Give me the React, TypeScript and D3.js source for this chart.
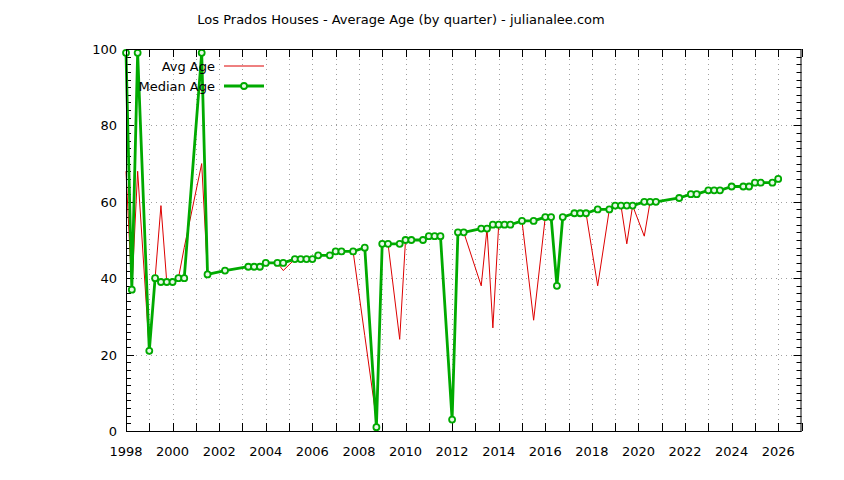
import React from "react";
import * as d3 from "d3";

const quarters = [
  1998.0, 1998.25, 1998.5, 1999.0, 1999.25, 1999.5, 1999.75, 2000.0, 2000.25, 2000.5,
  2001.25, 2001.5, 2002.25, 2003.25, 2003.5, 2003.75, 2004.0, 2004.5, 2004.75, 2005.25,
  2005.5, 2005.75, 2006.0, 2006.25, 2006.75, 2007.0, 2007.25, 2007.75, 2008.25, 2008.75,
  2009.0, 2009.25, 2009.75, 2010.0, 2010.25, 2010.75, 2011.0, 2011.25, 2011.5, 2012.0,
  2012.25, 2012.5, 2013.25, 2013.5, 2013.75, 2014.0, 2014.25, 2014.5, 2015.0, 2015.5,
  2016.0, 2016.25, 2016.5, 2016.75, 2017.25, 2017.5, 2017.75, 2018.25, 2018.75, 2019.0,
  2019.25, 2019.5, 2019.75, 2020.25, 2020.5, 2020.75, 2021.75, 2022.25, 2022.5, 2023.0,
  2023.25, 2023.5, 2024.0, 2024.5, 2024.75, 2025.0, 2025.25, 2025.75, 2026.0,
];

const medianAge = [
  99, 37, 99, 21, 40, 39, 39, 39, 40, 40,
  99, 41, 42, 43, 43, 43, 44, 44, 44, 45,
  45, 45, 45, 46, 46, 47, 47, 47, 48, 1,
  49, 49, 49, 50, 50, 50, 51, 51, 51, 3,
  52, 52, 53, 53, 54, 54, 54, 54, 55, 55,
  56, 56, 38, 56, 57, 57, 57, 58, 58, 59,
  59, 59, 59, 60, 60, 60, 61, 62, 62, 63,
  63, 63, 64, 64, 64, 65, 65, 65, 66,
];

const avgAge = [
  68, 37, 68, 21, 40, 59, 39, 39, 40, 48,
  70, 41, 42, 43, 43, 43, 44, 44, 42, 45,
  45, 45, 45, 46, 46, 47, 47, 47, 25, 3,
  49, 49, 24, 50, 50, 50, 51, 51, 51, 3,
  52, 52, 38, 53, 27, 54, 54, 54, 55, 29,
  56, 56, 38, 56, 57, 57, 57, 38, 58, 59,
  59, 49, 59, 51, 60, 60, 61, 62, 62, 63,
  63, 63, 64, 64, 64, 65, 65, 65, 66,
];

const xLabelYears = d3.range(1998, 2027, 2);
const xGridYears = d3.range(1998, 2028, 1);
const yLabels = [0, 20, 40, 60, 80, 100];
const yMinor = d3.range(0, 101, 2);

const title = "Los Prados Houses - Average Age (by quarter) - julianalee.com";
const legendNames = ["Avg Age", "Median Age"];

const W = 844;
const H = 480;
const L = 126;
const R = 801.5;
const T = 49;
const B = 431;
const FONT = "'DejaVu Sans', sans-serif";
const RED = "#dd0000";
const GREEN = "#00aa00";

export default function App() {
  const x = d3.scaleLinear().domain([1998, 2027]).range([L, R]);
  const y = d3.scaleLinear().domain([0, 100]).range([B, T]);

  const avgData = quarters.map((q, i) => [q, avgAge[i]] as [number, number]);
  const medData = quarters.map((q, i) => [q, medianAge[i]] as [number, number]);
  const line = d3
    .line<[number, number]>()
    .x((d) => x(d[0]))
    .y((d) => y(d[1]));

  return (
    <svg
      width={W}
      height={H}
      style={{ position: "absolute", left: 0, top: 0, background: "#fff" }}
      fontFamily={FONT}
    >
      <rect x={0} y={0} width={W} height={H} fill="#fff" />
      {/* grid */}
      <g stroke="#a0a0a0" strokeWidth={1} strokeDasharray="1,4">
        {xGridYears
          .filter((yr) => yr > 1998 && yr < 2027)
          .map((yr) => (
            <line key={"gx" + yr} x1={Math.round(x(yr)) + 0.5} x2={Math.round(x(yr)) + 0.5} y1={T} y2={B} />
          ))}
        {yLabels
          .filter((v) => v > 0 && v < 100)
          .map((v) => (
            <line key={"gy" + v} x1={L} x2={R} y1={Math.round(y(v)) + 0.5} y2={Math.round(y(v)) + 0.5} />
          ))}
      </g>
      {/* ticks */}
      <g stroke="#000" strokeWidth={1}>
        {xGridYears.map((yr) => {
          const px = Math.round(x(yr)) + 0.5;
          return (
            <g key={"tx" + yr}>
              <line x1={px} x2={px} y1={B} y2={B - 8} />
              <line x1={px} x2={px} y1={T} y2={T + 8} />
            </g>
          );
        })}
        {yMinor.map((v) => {
          const py = Math.round(y(v)) + 0.5;
          const len = v % 20 === 0 ? 8 : 5;
          return (
            <g key={"ty" + v}>
              <line x1={L} x2={L + len} y1={py} y2={py} />
              <line x1={R} x2={R - len} y1={py} y2={py} />
            </g>
          );
        })}
      </g>
      {/* lines */}
      <path d={line(avgData) || ""} fill="none" stroke={RED} strokeWidth={1} />
      <path d={line(medData) || ""} fill="none" stroke={GREEN} strokeWidth={2.8} strokeLinejoin="round" />
      {medData.map((d, i) => (
        <circle key={"c" + i} cx={x(d[0])} cy={y(d[1])} r={3} fill="#e8f8e8" stroke={GREEN} strokeWidth={1.8} />
      ))}
      {/* border */}
      <rect x={L + 0.5} y={T + 0.5} width={R - L - 1} height={B - T} fill="none" stroke="#000" strokeWidth={1} />
      {/* axis labels */}
      <g fontSize={13} fill="#000">
        {xLabelYears.map((yr) => (
          <text key={"lx" + yr} x={x(yr)} y={456} textAnchor="middle">
            {yr}
          </text>
        ))}
        {yLabels.map((v) => (
          <text key={"ly" + v} x={117} y={y(v) + 5} textAnchor="end">
            {v}
          </text>
        ))}
        <text x={401} y={24} textAnchor="middle">
          {title}
        </text>
      </g>
      {/* legend */}
      <g fontSize={13} fill="#000">
        <text x={215} y={71} textAnchor="end">{legendNames[0]}</text>
        <line x1={224} x2={264} y1={66} y2={66} stroke={RED} strokeWidth={1} />
        <text x={215} y={91} textAnchor="end">{legendNames[1]}</text>
        <line x1={224} x2={264} y1={86} y2={86} stroke={GREEN} strokeWidth={2.8} />
        <circle cx={244} cy={86} r={3} fill="#e8f8e8" stroke={GREEN} strokeWidth={1.8} />
      </g>
    </svg>
  );
}
